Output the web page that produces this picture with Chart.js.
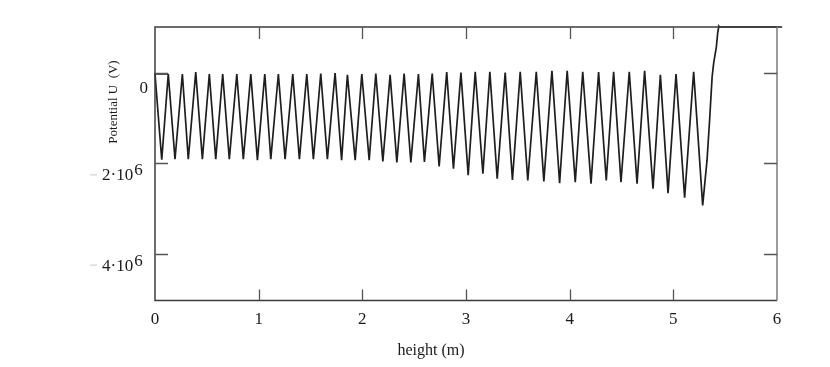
<!DOCTYPE html>
<html>
<head>
<meta charset="utf-8">
<script src="https://cdn.jsdelivr.net/npm/chart.js@4/dist/chart.umd.min.js"></script>
<style>
  body { margin:0; background:#fff; }
  #wrap { width:830px; height:367px; }
</style>
</head>
<body>
<div id="wrap"><canvas id="graphe"></canvas></div>
<script>
// hauteur (m) et potentiel (V), dans l'ordre du trace
const hauteur = [0.128, 0, 0.065, 0.128, 0.193, 0.264, 0.321, 0.393, 0.457, 0.524,
  0.586, 0.653, 0.717, 0.789, 0.852, 0.924, 0.988, 1.059, 1.117, 1.190,
  1.255, 1.329, 1.393, 1.464, 1.528, 1.599, 1.663, 1.737, 1.800, 1.856,
  1.931, 1.995, 2.066, 2.130, 2.198, 2.268, 2.333, 2.403, 2.468, 2.541,
  2.599, 2.674, 2.741, 2.814, 2.879, 2.951, 3.021, 3.089, 3.163, 3.230,
  3.301, 3.378, 3.448, 3.523, 3.596, 3.678, 3.751, 3.829, 3.903, 3.976,
  4.054, 4.126, 4.206, 4.279, 4.353, 4.424, 4.495, 4.575, 4.650, 4.723,
  4.804, 4.875, 4.949, 5.026, 5.109, 5.196, 5.283, 5.325, 5.350, 5.374,
  5.389, 5.415, 5.428, 5.439, 5.445, 6.05]
const potentiel = [-0.02e6, -0.02e6, -1.92e6, -0.02e6, -1.91e6, -0.02e6, -1.91e6, 0.02e6, -1.91e6, -0.02e6,
  -1.91e6, -0.02e6, -1.91e6, -0.02e6, -1.91e6, -0.02e6, -1.93e6, -0.02e6, -1.91e6, -0.02e6,
  -1.91e6, -0.02e6, -1.91e6, -0.02e6, -1.91e6, -0.01e6, -1.91e6, 0, -1.93e6, -0.04e6,
  -1.93e6, -0.02e6, -1.93e6, -0.01e6, -1.96e6, -0.04e6, -1.98e6, -0.01e6, -1.98e6, -0.02e6,
  -1.97e6, -0.01e6, -2.07e6, 0.02e6, -2.12e6, 0.01e6, -2.26e6, 0.03e6, -2.23e6, 0.03e6,
  -2.34e6, 0.01e6, -2.37e6, 0.03e6, -2.38e6, 0.03e6, -2.40e6, 0.05e6, -2.44e6, 0.05e6,
  -2.42e6, 0.03e6, -2.45e6, 0.02e6, -2.38e6, 0.03e6, -2.42e6, 0.03e6, -2.45e6, 0.05e6,
  -2.56e6, -0.04e6, -2.66e6, -0.02e6, -2.76e6, 0.03e6, -2.93e6, -1.93e6, -1.04e6, -0.09e6,
  0.22e6, 0.58e6, 0.89e6, 1.04e6, 1.02e6, 1.02e6]

const xTicks = [0, 1, 2, 3, 4, 5, 6]
const yTicks = [0, -2e6, -4e6]

const police = "'Liberation Serif', 'Times New Roman', serif"

// cadre, petits traits vers l'interieur et textes des axes
const cadre = {
  id: 'cadre',
  afterDraw(chart) {
    const ctx = chart.ctx
    const a = chart.chartArea
    const x = chart.scales.x
    const y = chart.scales.y
    ctx.save()
    ctx.lineWidth = 1.5
    ctx.strokeStyle = '#3c3c3c'
    ctx.beginPath()
    ctx.moveTo(a.right, a.top); ctx.lineTo(a.left, a.top)
    ctx.lineTo(a.left, a.bottom); ctx.lineTo(a.right, a.bottom)
    ctx.stroke()
    ctx.strokeStyle = '#7a7a7a'
    ctx.beginPath(); ctx.moveTo(a.right, a.top); ctx.lineTo(a.right, a.bottom); ctx.stroke()

    ctx.strokeStyle = '#555'
    ctx.lineWidth = 1.3
    ctx.beginPath()
    for (const v of xTicks) {
      if (v === xTicks[0] || v === xTicks[xTicks.length - 1]) continue
      const px = Math.round(x.getPixelForValue(v)) + 0.5
      ctx.moveTo(px, a.bottom); ctx.lineTo(px, a.bottom - 11)
      ctx.moveTo(px, a.top); ctx.lineTo(px, a.top + 12)
    }
    for (const v of yTicks) {
      const py = Math.round(y.getPixelForValue(v)) + 0.5
      ctx.moveTo(a.left, py); ctx.lineTo(a.left + 13, py)
      ctx.moveTo(a.right, py); ctx.lineTo(a.right - 13, py)
    }
    ctx.stroke()

    // etiquettes de l'axe vertical
    ctx.fillStyle = '#1a1a1a'
    ctx.font = '17px ' + police
    ctx.textBaseline = 'alphabetic'
    for (const v of yTicks) {
      const py = y.getPixelForValue(v)
      if (v === 0) {
        ctx.textAlign = 'right'
        ctx.fillText('0', a.left - 7, py + 20)
        continue
      }
      ctx.textAlign = 'left'
      const base = (Math.abs(v) / 1e6) + '\u00b710'
      ctx.fillText(base, 102, py + 17)
      const w = ctx.measureText(base).width
      ctx.fillText('6', 102 + w + 1, py + 12)
      ctx.fillStyle = '#c8c8c8'
      ctx.fillRect(90, py + 11, 7, 1)
      ctx.fillStyle = '#1a1a1a'
    }

    // titres
    ctx.font = '13px ' + police
    ctx.textAlign = 'center'
    ctx.save()
    ctx.translate(117, 102)
    ctx.rotate(-Math.PI / 2)
    ctx.fillText('Potential U  (V)', 0, 0)
    ctx.restore()
    ctx.font = '16px ' + police
    ctx.fillText('height (m)', 431, 355)
    ctx.restore()
  }
}

const graphe = document.querySelector('#graphe')
if (graphe) {
  new Chart(graphe, {
    type: 'scatter',
    data: {
      datasets: [{
        data: hauteur.map((h, i) => ({ x: h, y: potentiel[i] })),
        showLine: true,
        borderColor: '#1e1e1e',
        borderWidth: 1.7,
        pointRadius: 0,
        tension: 0,
        clip: false
      }]
    },
    options: {
      animation: false,
      responsive: true,
      maintainAspectRatio: false,
      layout: { padding: { left: 155, right: 53, top: 27, bottom: 36 } },
      plugins: { legend: { display: false }, tooltip: { enabled: false } },
      scales: {
        x: {
          type: 'linear', min: 0, max: 6,
          afterBuildTicks: s => { s.ticks = xTicks.map(v => ({ value: v })) },
          grid: { display: false },
          border: { display: false },
          ticks: { padding: 1, color: '#1a1a1a', font: { family: police, size: 17 } }
        },
        y: {
          display: false,
          min: -5.04e6, max: 1.02e6
        }
      }
    },
    plugins: [cadre]
  })
}
</script>
</body>
</html>
